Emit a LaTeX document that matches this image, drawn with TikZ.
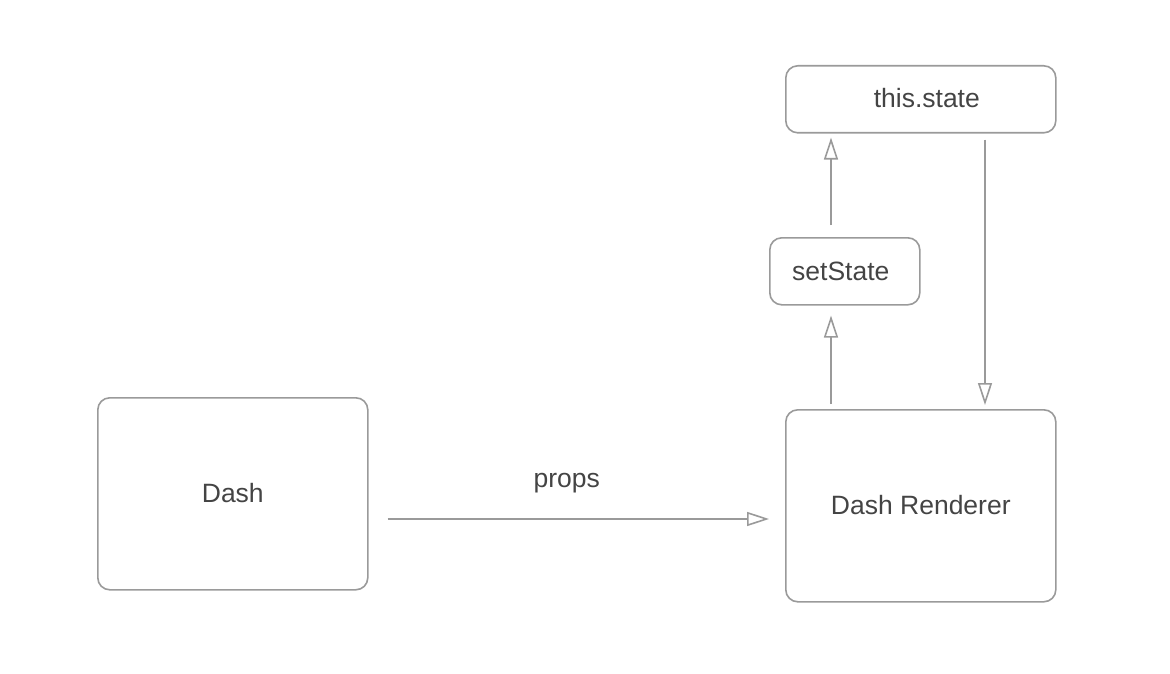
\documentclass[tikz,border=0pt]{standalone}
\usepackage{fontspec}
\setmainfont{Liberation Sans}
\usetikzlibrary{arrows.meta}
\definecolor{linegray}{HTML}{9A9A9A}
\definecolor{textgray}{HTML}{444444}
\begin{document}
\begin{tikzpicture}[x=1pt,y=-1pt,
  box/.style={draw=linegray, line width=1.6pt, rounded corners=12pt, anchor=north west,
    inner sep=0pt, text=textgray, font=\fontsize{26.5}{30}\selectfont},
  conn/.style={draw=linegray, line width=1.6pt,
    -{Triangle[open, length=22pt, width=14pt, line width=1.6pt]}},
  lbl/.style={text=textgray, font=\fontsize{26.5}{30}\selectfont, inner sep=0pt}]
\useasboundingbox (0,0) rectangle (1170,674);
\node[box, minimum width=270pt, minimum height=192pt] (dash) at (97,397) {\raisebox{2pt}{Dash}};
\node[box, minimum width=270pt, minimum height=192pt] (renderer) at (785,409) {\raisebox{2pt}{Dash Renderer}};
\node[box, minimum width=270pt, minimum height=67pt] (thisstate) at (785,65) {\hspace*{12pt}\raisebox{2pt}{this.state}};
\node[box, minimum width=150pt, minimum height=67pt] (setstate) at (769,237) {setState\hspace*{8pt}};
\draw[conn, shorten <=19pt, shorten >=16pt] (dash.east |- 0,519) -- (renderer.west |- 0,519)
  node[lbl, midway, above=25pt, xshift=-10pt] (props) {props};
\draw[conn, shorten <=5pt, shorten >=10pt] ([xshift=46pt]renderer.north west) -- ([xshift=62pt]setstate.south west);
\draw[conn, shorten <=12pt, shorten >=4pt] ([xshift=62pt]setstate.north west) -- ([xshift=46pt]thisstate.south west);
\draw[conn, shorten <=6pt, shorten >=4pt] ([xshift=200pt]thisstate.south west) -- ([xshift=200pt]renderer.north west);
\end{tikzpicture}
\end{document}
